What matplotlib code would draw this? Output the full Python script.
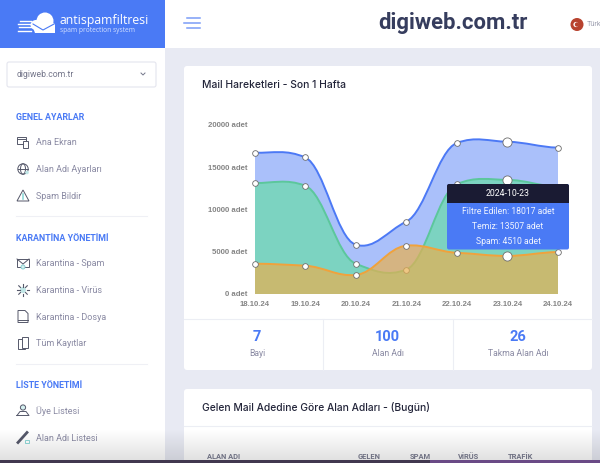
import numpy as np
import matplotlib
matplotlib.use("Agg")
import matplotlib.pyplot as plt
from matplotlib.path import Path
from matplotlib.patches import PathPatch, Rectangle, FancyBboxPatch, Circle, Ellipse, Polygon

plt.rcParams['font.family'] = ['Roboto', 'DejaVu Sans']

# chart data
dates = ["18.10.24", "19.10.24", "20.10.24", "21.10.24", "22.10.24", "23.10.24", "24.10.24"]
filtre = [16720, 16170, 5840, 8560, 17870, 18017, 17320]
temiz = [13135, 12820, 3590, 2880, 13000, 13507, 12700]
spam = [3590, 3350, 2250, 5720, 4880, 4510, 4970]
y_ticks = [0, 5000, 10000, 15000, 20000]
hover_index = 5

# page text
menu_general = ["Ana Ekran", "Alan Adı Ayarları", "Spam Bildir"]
menu_quarantine = ["Karantina - Spam", "Karantina - Virüs", "Karantina - Dosya", "Tüm Kayıtlar"]
menu_list = ["Üye Listesi", "Alan Adı Listesi"]
stats = [("7", "Bayi"), ("100", "Alan Adı"), ("26", "Takma Alan Adı")]
table_head = ["ALAN ADI", "GELEN", "SPAM", "VİRÜS", "TRAFİK"]

BLUE = "#4a7af5"
PAGE = "#e8eaf3"
MENU = "#8a8aa3"
ICON = "#55586a"
W, H = 600, 463


def px_rect(x0, y0, x1, y1):
    return [x0 / W, 1 - y1 / H, (x1 - x0) / W, (y1 - y0) / H]


def smooth_path(xs, ys, close=False):
    """Bezier through the data points, nearly flat handles like the web chart"""
    verts = [(xs[0], ys[0])]
    codes = [Path.MOVETO]
    n = len(xs)
    for i in range(n - 1):
        a = max(i - 1, 0)
        b = min(i + 2, n - 1)
        verts.append((xs[i] + 0.38, ys[i] + (ys[i + 1] - ys[a]) * 0.09))
        verts.append((xs[i + 1] - 0.38, ys[i + 1] - (ys[b] - ys[i]) * 0.09))
        verts.append((xs[i + 1], ys[i + 1]))
        codes += [Path.CURVE4] * 3
    if close:
        verts += [(xs[-1], 0), (xs[0], 0), (xs[0], ys[0])]
        codes += [Path.LINETO, Path.LINETO, Path.CLOSEPOLY]
    return Path(verts, codes)


def card(ax, x0, y0, x1, y1):
    ax.add_patch(FancyBboxPatch((x0 + 3, y0 + 3), x1 - x0 - 6, y1 - y0 - 6, boxstyle="round,pad=3",
                                fc="white", ec="none"))


def menu_icon(ax, kind, x, y):
    st = dict(fc="none", ec=ICON, lw=0.7)
    if kind == 0:
        ax.add_patch(Rectangle((x - 6, y - 5), 9, 7, **st))
        ax.add_patch(Rectangle((x, y - 1), 5, 7, fc="white", ec=ICON, lw=0.7))
        ax.plot([x - 5, x + 2], [y - 3, y - 3], color=ICON, lw=0.7)
    elif kind == 1:
        ax.add_patch(Circle((x, y), 5.2, **st))
        ax.add_patch(Ellipse((x, y), 5, 10.4, **st))
        ax.plot([x - 5, x + 5], [y, y], color=ICON, lw=0.7)
        ax.add_patch(Circle((x + 4, y + 3.5), 1.8, fc="#bfe6e6", ec="none"))
    elif kind == 2:
        ax.add_patch(Polygon([(x, y - 6), (x - 6, y + 5), (x + 6, y + 5)], closed=True, **st))
        ax.plot([x, x], [y - 2, y + 3], color="#8fd8d8", lw=1.2)
    elif kind == 3:
        ax.add_patch(Rectangle((x - 6, y - 4), 12, 8, **st))
        ax.plot([x - 6, x, x + 6], [y - 4, y + 1, y - 4], color=ICON, lw=0.7)
        ax.add_patch(Circle((x, y + 4), 2, fc="#d5f0f0", ec="#7fcccc", lw=0.6))
    elif kind == 4:
        for a in np.linspace(0, 2 * np.pi, 8, endpoint=False):
            ax.plot([x + 3.5 * np.cos(a), x + 6 * np.cos(a)], [y + 3.5 * np.sin(a), y + 6 * np.sin(a)],
                    color=ICON, lw=0.8)
        ax.add_patch(Circle((x, y), 3, fc="#bfe6e6", ec="none"))
    elif kind == 5:
        ax.add_patch(Polygon([(x - 5, y - 6), (x + 2, y - 6), (x + 5, y - 3), (x + 5, y + 6), (x - 5, y + 6)],
                             closed=True, **st))
        ax.plot([x - 5, x + 5], [y + 3, y + 3], color=ICON, lw=0.7)
    elif kind == 6:
        ax.add_patch(Rectangle((x - 5, y - 4), 7, 10, **st))
        ax.add_patch(Rectangle((x - 1, y - 6), 6, 11, fc="white", ec=ICON, lw=0.7))
    elif kind == 7:
        ax.add_patch(Circle((x, y - 3), 2.6, fc="#d5f0f0", ec=ICON, lw=0.7))
        ax.plot([x - 6, x - 3, x + 3, x + 6, x - 6], [y + 5, y + 1, y + 1, y + 5, y + 5], color=ICON, lw=0.7)
    else:
        ax.plot([x - 5, x + 4], [y + 5, y - 5], color=ICON, lw=2)
        ax.add_patch(Rectangle((x + 2, y + 2), 4, 3, fc="none", ec="#8fd8d8", lw=0.7))


fig = plt.figure(figsize=(6.0, 4.63), dpi=100, facecolor=PAGE)

# page chrome in pixel coordinates
page = fig.add_axes([0, 0, 1, 1])
page.set_xlim(0, W)
page.set_ylim(H, 0)
page.axis("off")

page.add_patch(Rectangle((0, 0), 165, H, fc="white", ec="none"))
page.add_patch(Rectangle((165, 0), W - 165, 48, fc="white", ec="none"))
page.add_patch(Rectangle((0, 0), 165, 48, fc=BLUE, ec="none"))

# logo
page.add_patch(Ellipse((45, 21), 17, 17, fc="white", ec="none"))
page.add_patch(Ellipse((36, 25), 11, 10, fc="white", ec="none"))
page.add_patch(Polygon([(32, 25), (55, 23), (55, 33), (35, 33)], closed=True, fc="white", ec="none"))
page.plot([33, 43, 55], [24, 30, 23.5], color=BLUE, lw=0.8)
for yy, x0 in zip([21, 24, 27, 31], [20, 18, 19, 18]):
    page.plot([x0, 31], [yy, yy], color="white", lw=1.0)
page.text(59, 20.5, "antispamfiltresi", color="white", fontsize=8.8, va="center", family="Open Sans")
page.text(59.5, 31, "spam protection system", color="#d4e0ff", fontsize=4.8, va="center", family="Open Sans")

# domain select
page.add_patch(FancyBboxPatch((9, 64), 145, 21, boxstyle="round,pad=2", fc="white", ec="#e4e5ee", lw=0.8))
page.text(17, 74.8, "digiweb.com.tr", color="#74768a", fontsize=6.2, va="center")
page.plot([141, 143, 145], [73, 75, 73], color="#74768a", lw=0.7)

# sidebar menu
sections = [("GENEL AYARLAR", 117, menu_general, [142, 169, 196], [0, 1, 2]),
            ("KARANTİNA YÖNETİMİ", 238, menu_quarantine, [263, 290, 316.5, 343], [3, 4, 5, 6]),
            ("LİSTE YÖNETİMİ", 385, menu_list, [410.5, 437.5], [7, 8])]
for head, hy, items, ys, icons in sections:
    page.text(16, hy + 0.5, head, color=BLUE, fontsize=6.4, fontweight="bold", va="center")
    for label, iy, kind in zip(items, ys, icons):
        page.text(36, iy + 0.7, label, color=MENU, fontsize=6.5, va="center")
        menu_icon(page, kind, 23, iy)
for sy in [216, 363.5]:
    page.plot([16, 147], [sy, sy], color="#eff0f5", lw=0.8)

# top bar
for yy, x0, x1 in zip([18, 23, 28], [187, 184, 187], [200, 200, 200]):
    page.plot([x0, x1], [yy, yy], color="#7a9cf7", lw=1.1)
page.text(452.5, 23, "digiweb.com.tr", color="#363d5e", fontsize=15.9, fontweight="bold",
          ha="center", va="center")
page.add_patch(Circle((577, 24.5), 6.5, fc="#b8432f", ec="none"))
page.add_patch(Circle((576, 24.5), 2.6, fc="white", ec="none"))
page.add_patch(Circle((577, 24.5), 2.2, fc="#b8432f", ec="none"))
page.text(587, 24, "Türk", color="#a0a2b2", fontsize=5.2, va="center")

# cards
card(page, 184, 66, 592, 370)
card(page, 184, 389, 592, 475)
page.text(202, 85, "Mail Hareketleri - Son 1 Hafta", color="#23253a", fontsize=7.45, fontweight="medium", va="center",
          family="Inter")
page.text(202, 407.5, "Gelen Mail Adedine Göre Alan Adları - (Bugün)", color="#23253a", fontsize=7.4,
          fontweight="medium", va="center", family="Inter")
page.plot([184, 592], [318.5, 318.5], color="#eceef4", lw=0.8)
page.plot([184, 592], [426, 426], color="#eceef4", lw=0.8)
for vx in [322.5, 452.5]:
    page.plot([vx, vx], [318.5, 370], color="#eceef4", lw=0.8)
for (num, lab), sx in zip(stats, [257, 387.5, 518]):
    page.text(sx, 337, num, color=BLUE, fontsize=10.5, fontweight="bold", ha="center", va="center")
    page.text(sx, 354, lab, color=MENU, fontsize=6.2, ha="center", va="center")
for lab, tx in zip(table_head, [207, 358, 410, 458, 508]):
    page.text(tx, 457, lab, color="#7c7e92", fontsize=5.4, fontweight="bold", va="center")

# window fade and dock edge at the bottom
fade = np.zeros((32, 1, 4))
fade[:, 0, 3] = np.linspace(0, 0.12, 32)
page.imshow(fade, extent=(0, W, 460, 428), aspect="auto", zorder=5)
page.add_patch(Rectangle((0, 460), W, 3, fc="#41384f", ec="none", zorder=6))
page.add_patch(Rectangle((430, 460), W - 430, 3, fc="#6a4a86", ec="none", zorder=6))
page.set_xlim(0, W)
page.set_ylim(H, 0)

# the chart
ax = fig.add_axes(px_rect(254.5, 125, 558, 294))
ax.patch.set_alpha(0)
ax.set_xlim(0, len(dates) - 1)
ax.set_ylim(0, 20000)
for s in ax.spines.values():
    s.set_visible(False)
ax.set_xticks(range(len(dates)))
ax.set_xticklabels(dates)
ax.set_yticks(y_ticks)
ax.set_yticklabels([f"{v} adet" for v in y_ticks])
ax.tick_params(length=0, labelsize=5.6, labelcolor="#858585", pad=5)
for t in ax.get_xticklabels() + ax.get_yticklabels():
    t.set_fontweight("bold")
    t.set_family("Liberation Sans")

xs = list(range(len(dates)))
series = [(filtre, "#4c79f5", (76 / 255, 121 / 255, 245 / 255, 0.47)),
          (temiz, "#5cc79c", (94 / 255, 225 / 255, 155 / 255, 0.6)),
          (spam, "#f0a23c", (232 / 255, 176 / 255, 80 / 255, 0.7))]
for i, (vals, line_col, fill_col) in enumerate(series):
    base = 2 + i * 3
    ax.add_patch(PathPatch(smooth_path(xs, vals, close=True), fc=fill_col, ec="none", zorder=base))
    ax.add_patch(PathPatch(smooth_path(xs, vals), fc="none", ec=line_col, lw=1.4, zorder=base + 1))
    for k in xs:
        size = 6.6 if k == hover_index else 4.1
        ax.plot(k, vals[k], "o", ms=size, mfc="white", mec="#6d6d6d", mew=0.6, clip_on=False, zorder=base + 2)

# hover tooltip
top = fig.add_axes([0, 0, 1, 1])
top.set_xlim(0, W)
top.set_ylim(H, 0)
top.axis("off")
top.patch.set_alpha(0)
top.add_patch(FancyBboxPatch((449, 186), 118, 61.5, boxstyle="round,pad=2", fc=BLUE, ec="none"))
top.add_patch(FancyBboxPatch((449, 186), 118, 14.5, boxstyle="round,pad=2", fc="#1a1b33", ec="none"))
top.add_patch(Rectangle((447, 198), 122, 4.5, fc="#1a1b33", ec="none"))
top.text(508, 193, "2024-10-23", color="white", fontsize=6.3, ha="center", va="center")
top.text(508, 211.5, f"Filtre Edilen: {filtre[hover_index]} adet", color="#f0f4ff", fontsize=6.2, ha="center", va="center")
top.text(508, 226.5, f"Temiz: {temiz[hover_index]} adet", color="#f0f4ff", fontsize=6.2, ha="center", va="center")
top.text(508, 241, f"Spam: {spam[hover_index]} adet", color="#f0f4ff", fontsize=6.2, ha="center", va="center")

fig.savefig("out.png", dpi=100, facecolor=PAGE)
